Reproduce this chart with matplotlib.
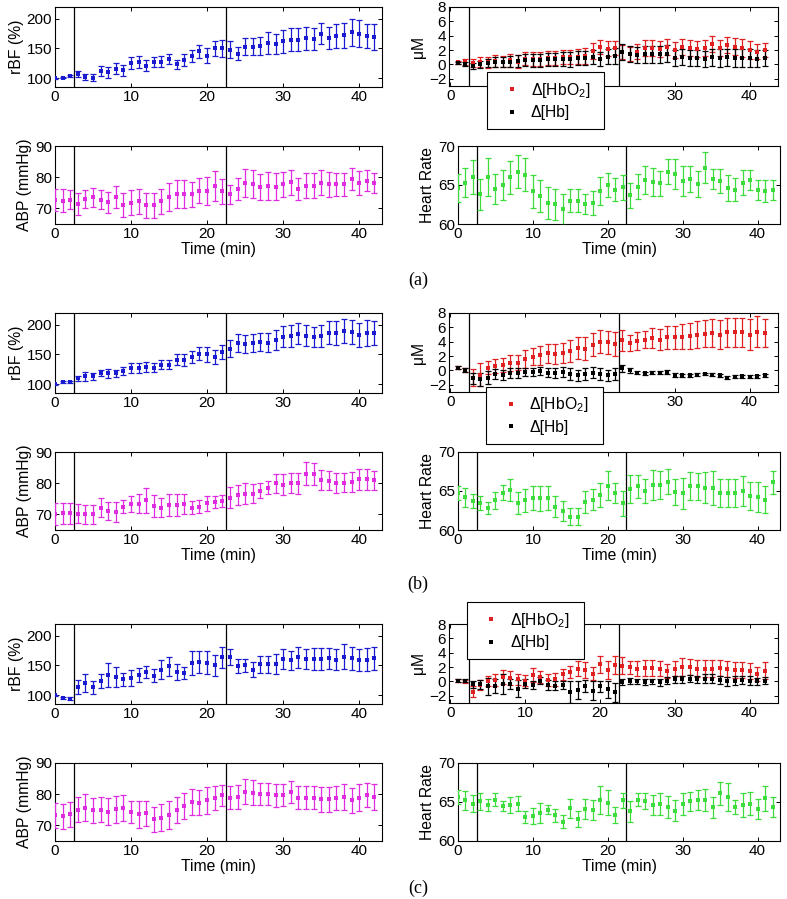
import numpy as np
import matplotlib
matplotlib.use('Agg')
import matplotlib.pyplot as plt
from matplotlib.lines import Line2D

plt.rcParams['font.family'] = ['Liberation Sans', 'DejaVu Sans']
plt.rcParams['mathtext.default'] = 'regular'

# ---------------- data ----------------
# group (a)
rbf_a = [100, 101, 104, 107, 102, 101, 112, 110, 116, 113, 125, 127, 121, 127, 128,
         132, 123, 131, 137, 145, 138, 150, 150, 148, 141, 153, 153, 154, 159, 158,
         162, 165, 165, 167, 166, 175, 168, 171, 172, 177, 175, 171, 170]
rbf_a_err = [1, 1.5, 2, 5, 5, 6, 8, 9, 9, 9, 10, 10, 9, 8, 9, 8, 8, 10, 10, 11, 12, 13,
             14, 14, 11, 14, 14, 15, 18, 17, 19, 19, 20, 20, 19, 18, 19, 21, 21, 23, 23, 20, 22]
abp_a = [72.7, 72.4, 72.8, 71.3, 73, 73.6, 72.8, 71.9, 73.6, 71, 71.8, 72.3, 71, 71, 72.3,
         73.6, 74.7, 74.7, 74.5, 75.7, 75.7, 77.3, 75.5, 74.5, 76.3, 78, 77.7, 76.8, 77.3, 77,
         77.8, 78.4, 76.3, 77.3, 77.3, 78.2, 77.7, 77.7, 77.7, 79.3, 78.2, 78.9, 78.2]
abp_a_err = [3.5, 3.7, 3, 3.5, 3, 3, 3, 3.5, 3.6, 3.8, 4, 4, 4, 4, 4, 4.5, 4.5, 4.5, 4, 4,
             4.5, 4.8, 4, 3, 3.6, 4.5, 4.5, 4.2, 4.5, 4.2, 4, 4, 3.5, 4, 4, 4, 4, 3.8, 3.8,
             3.5, 3.8, 3.3, 3.2]
hr_a = [64.6, 65.3, 66, 63.8, 66, 64.5, 65, 66, 66.7, 66.3, 64.2, 63.6, 62.7, 62.5, 61.9,
        63, 63, 62.6, 62.7, 64.2, 65, 64.4, 64.7, 63.7, 64.8, 65.6, 65.4, 65.2, 66.7, 66.4,
        65.5, 65.8, 65.1, 67.2, 65.8, 65.5, 64.6, 64.4, 65.3, 65.6, 64.4, 64.2, 64.4]
hr_a_err = [1.8, 1.9, 2.2, 2, 2.4, 1.9, 1.9, 2.1, 2.1, 2.1, 2.1, 2.1, 2, 2, 2, 1.5, 1.5,
            1.3, 1.5, 1.8, 1.6, 1.5, 1.6, 1.6, 1.6, 1.8, 1.8, 1.6, 1.6, 1.9, 1.9, 1.7, 1.7,
            2, 1.3, 1.5, 1.7, 1.5, 1.6, 1.3, 1.3, 1.4, 1.3]
hbo2_a = [0.3, 0.3, 0.2, 0.3, 0.3, 0.5, 0.4, 0.6, 0.4, 0.8, 0.8, 0.8, 0.9, 0.9, 1.0, 1.0,
          1.1, 1.2, 1.9, 2.4, 2.2, 2.3, 1.7, 1.5, 1.8, 2.3, 2.3, 2.2, 2.4, 2.0, 2.4, 2.3,
          2.2, 2.3, 2.9, 2.3, 2.7, 2.5, 2.3, 2.0, 1.8, 2.0]
hbo2_a_err = [0.2, 0.4, 0.6, 0.7, 0.8, 0.8, 0.8, 0.9, 0.9, 0.9, 1.0, 1.0, 1.0, 1.0, 1.0,
              1.0, 1.1, 1.1, 1.1, 1.0, 1.0, 1.0, 1.0, 1.0, 1.0, 1.1, 1.1, 1.1, 1.1, 1.1,
              1.1, 1.1, 1.1, 1.1, 1.1, 1.1, 1.1, 1.2, 1.2, 1.2, 1.1, 1.0]
hb_a = [0.2, 0.1, -0.2, 0.0, 0.2, 0.3, 0.3, 0.4, 0.5, 0.6, 0.6, 0.6, 0.7, 0.7, 0.8, 0.7,
        0.9, 0.9, 1.0, 0.8, 1.1, 1.2, 1.7, 1.5, 1.3, 1.4, 1.4, 1.4, 1.5, 0.9, 1.0, 0.9,
        0.9, 0.8, 1.0, 0.9, 1.0, 0.9, 0.9, 0.9, 0.8, 0.9]
hb_a_err = [0.2, 0.3, 0.4, 0.5, 0.6, 0.7, 0.7, 0.8, 0.8, 0.8, 0.9, 0.9, 0.9, 0.9, 1.0,
            1.0, 1.0, 1.0, 1.0, 1.0, 1.1, 1.1, 1.1, 1.1, 1.1, 1.2, 1.2, 1.2, 1.2, 1.1,
            1.1, 1.1, 1.1, 1.1, 1.2, 1.2, 1.2, 1.2, 1.2, 1.2, 1.2, 1.1]

# group (b)
rbf_b = [100, 104, 104, 110, 113, 113, 119, 118, 118, 122, 127, 127, 129, 128, 133,
         133, 141, 141, 146, 151, 150, 146, 154, 160, 170, 168, 169, 171, 170, 175,
         180, 181, 185, 182, 179, 181, 187, 186, 190, 188, 183, 187, 186]
rbf_b_err = [1, 2, 2, 4, 7, 6, 5, 7, 6, 7, 9, 9, 9, 7, 8, 8, 9, 10, 10, 11, 12, 12, 12,
             14, 15, 15, 15, 15, 16, 17, 18, 19, 18, 18, 17, 19, 20, 20, 20, 21, 20, 22, 20]
abp_b = [70, 70.3, 70.3, 70.2, 70, 70, 72.1, 71.1, 70.8, 72.5, 73.4, 73.4, 74.6, 72.7,
         72.2, 72.9, 72.9, 73.4, 72.2, 72.5, 73.5, 74, 74.3, 75.4, 76.2, 76.6, 76.6, 77.6,
         78.6, 80, 79.5, 80, 80, 83, 83, 81, 80.8, 80, 80.2, 80.4, 81.3, 81.3, 80.9]
abp_b_err = [3.5, 3.5, 3.5, 3, 3, 3, 3, 3, 3.3, 2, 2.5, 3, 4, 3.5, 3, 3.5, 3.5, 3.2, 2, 2,
             2.5, 2, 2, 3.5, 3.2, 3.4, 3, 2.5, 2.2, 3, 3.3, 3.3, 3.4, 3.7, 3.5, 3.2, 3,
             3.2, 3, 3.2, 3.4, 3.4, 3]
hr_b = [64.7, 64.2, 63.7, 63.4, 62.8, 63.8, 64.8, 65.1, 63.5, 63.8, 64.1, 64.1, 64.1, 63,
        62.4, 61.7, 61.7, 63.6, 63.9, 64.5, 65.7, 64.7, 63.4, 65.3, 65.6, 65, 65.8, 65.8,
        66.2, 64.9, 64.7, 65.6, 65.6, 65.4, 65.4, 64.8, 64.8, 64.8, 65, 64.4, 64.2, 63.9, 66.1]
hr_b_err = [0.9, 1.2, 0.9, 0.9, 0.8, 1.1, 1.0, 1.4, 1.4, 1.5, 1.5, 1.6, 1.5, 1.3, 1.3,
            1.1, 1.1, 1.4, 1.4, 1.5, 1.8, 1.3, 1.6, 1.8, 1.5, 1.6, 1.9, 1.8, 1.6, 1.7,
            2.0, 1.8, 1.7, 2.0, 2.2, 1.8, 1.8, 1.8, 1.9, 1.8, 1.9, 1.7, 1.5]
hbo2_b = [0.4, 0.1, -1.0, -0.6, 0.4, 0.6, 0.8, 1.0, 1.1, 1.6, 1.9, 2.1, 2.4, 2.3, 2.4,
          2.7, 3.1, 3.0, 3.6, 4.0, 3.9, 3.7, 4.2, 3.8, 4.1, 4.3, 4.5, 4.3, 4.6, 4.6,
          4.7, 4.8, 5.0, 5.1, 5.2, 5.0, 5.3, 5.3, 5.3, 5.0, 5.4, 5.2]
hbo2_b_err = [0.2, 0.3, 1.2, 1.6, 0.9, 1.0, 1.0, 1.1, 1.1, 1.2, 1.2, 1.3, 1.3, 1.4, 1.4,
              1.5, 1.5, 1.6, 1.6, 1.6, 1.6, 1.7, 1.5, 1.1, 1.2, 1.2, 1.4, 1.5, 1.6, 1.6,
              1.7, 1.8, 1.9, 1.9, 2.0, 2.0, 2.0, 2.0, 2.0, 2.1, 2.2, 1.9]
hb_b = [0.4, 0.1, -1.1, -1.2, -1.0, -0.5, -0.6, -0.4, -0.3, -0.2, -0.2, -0.1, -0.3, -0.4,
        -0.2, -0.5, -0.7, -0.5, -0.3, -0.5, -0.7, -0.5, 0.3, 0.0, -0.3, -0.4, -0.3, -0.3,
        -0.2, -0.6, -0.7, -0.7, -0.6, -0.5, -0.6, -0.7, -1.0, -0.9, -0.8, -0.9, -0.8, -0.7]
hb_b_err = [0.2, 0.3, 0.8, 0.9, 0.9, 0.7, 0.7, 0.7, 0.7, 0.6, 0.6, 0.6, 0.6, 0.7, 0.7,
            0.8, 0.8, 0.8, 0.8, 0.8, 0.8, 0.8, 0.5, 0.4, 0.2, 0.2, 0.2, 0.2, 0.3, 0.3,
            0.2, 0.2, 0.2, 0.2, 0.2, 0.2, 0.2, 0.2, 0.2, 0.2, 0.2, 0.2]

# group (c)
rbf_c = [100, 95, 94, 114, 120, 113, 124, 134, 131, 127, 129, 134, 139, 133, 143,
         149, 139, 138, 154, 156, 155, 150, 164, 164, 149, 150, 143, 152, 152, 152,
         161, 159, 164, 161, 161, 161, 162, 160, 165, 162, 159, 160, 162]
rbf_c_err = [1, 2, 3, 12, 15, 11, 12, 20, 17, 11, 14, 12, 10, 11, 16, 16, 13, 10, 20, 19,
             20, 18, 18, 14, 12, 11, 13, 14, 14, 17, 17, 16, 18, 17, 18, 19, 18, 17, 21,
             20, 19, 20, 19]
abp_c = [73.3, 73, 73.5, 75, 75.7, 74.8, 75, 74.4, 75.2, 75.5, 74.2, 73.5, 73.9, 72, 72.5,
         73.2, 75, 76.3, 77.5, 77.3, 78, 78.7, 79.6, 78.9, 79.1, 80.8, 80.5, 80, 80, 79.6,
         79.8, 80.6, 78.9, 78.9, 78.9, 78.4, 78.4, 78.7, 79.1, 78, 78.9, 79.7, 79.1]
abp_c_err = [4, 4, 4, 4, 4.3, 4, 4, 4.3, 4.3, 4.2, 3.5, 4.2, 4, 4, 4.3, 4.5, 4.2, 4.2,
             4.2, 4, 4.2, 3.8, 3.5, 3.8, 3.7, 4, 4, 3.6, 3.6, 3.8, 3.6, 3.5, 3.7, 3.8, 3.8,
             4, 4, 3.8, 4.3, 4, 4.3, 3.8, 4.2]
hr_c = [65.6, 65.2, 64.8, 65.1, 64.6, 65.3, 64.5, 64.6, 64.8, 63.1, 63.2, 63.6, 64, 63.3,
        62.5, 64.2, 62.8, 64.1, 64, 65.3, 64.9, 63.3, 65.2, 63.8, 65.3, 65.1, 64.6, 64.7,
        64.4, 63.9, 64.7, 65.1, 65.3, 65.3, 64.3, 66.1, 65.7, 64.4, 64.6, 64.8, 64.1, 65.5, 64.4]
hr_c_err = [0.9, 1.2, 1.1, 1.1, 0.8, 0.8, 0.6, 1.0, 1.0, 0.8, 1.0, 1.3, 0.6, 0.8, 0.8,
            1.2, 1.0, 1.3, 1.3, 1.8, 1.6, 1.0, 1.0, 1.3, 0.8, 1.0, 1.3, 1.4, 1.4, 1.3,
            1.4, 1.2, 1.3, 1.4, 1.4, 1.5, 1.8, 0.9, 1.5, 1.5, 1.3, 1.6, 1.3]
hbo2_c = [0.1, 0.0, -1.4, -0.5, 0.1, 0.2, 0.6, 0.5, 0.3, 0.1, 0.9, 0.6, 0.2, 0.3, 1.0,
          1.3, 1.8, 1.6, 1.1, 2.4, 1.6, 2.3, 2.2, 2.0, 1.8, 1.9, 1.9, 1.8, 1.5, 1.8,
          2.0, 2.0, 1.8, 1.8, 1.8, 1.9, 1.7, 1.6, 1.6, 1.5, 1.0, 1.5]
hbo2_c_err = [0.2, 0.2, 0.8, 0.7, 0.7, 0.8, 1.0, 1.0, 0.8, 0.8, 1.0, 0.8, 0.9, 0.9, 0.8,
              0.8, 1.1, 1.1, 0.9, 1.2, 1.2, 1.2, 1.2, 0.9, 1.0, 1.1, 1.1, 1.1, 1.0, 1.1,
              1.2, 1.1, 1.2, 1.2, 1.2, 1.1, 1.1, 1.1, 1.1, 1.1, 1.0, 1.2]
hb_c = [0.1, 0.1, -0.4, -0.4, -0.7, -0.6, -0.4, -0.3, -1.0, -0.3, -0.5, 0.1, -0.5, -0.6,
        -0.5, -1.5, -1.2, -0.6, -1.3, -0.7, -1.1, -1.5, -0.1, 0.1, 0.0, -0.1, 0.0, -0.1,
        0.1, 0.3, 0.3, 0.4, 0.3, 0.4, 0.4, 0.2, 0.0, 0.1, 0.2, 0.1, 0.0, 0.1]
hb_c_err = [0.2, 0.2, 0.5, 0.6, 1.2, 1.0, 1.4, 0.7, 1.2, 0.6, 0.6, 0.5, 0.7, 0.6, 0.5,
            1.5, 1.2, 0.8, 1.3, 0.7, 1.2, 1.3, 0.4, 0.4, 0.4, 0.4, 0.4, 0.5, 0.5, 0.5,
            0.5, 0.5, 0.5, 0.6, 0.6, 0.6, 0.6, 0.6, 0.6, 0.6, 0.5, 0.5]

group_labels = ['(a)', '(b)', '(c)']
event_times = [2.5, 22.5]
time_ticks = [0, 10, 20, 30, 40]

# ---------------- layout (pixel boxes) ----------------
W, H = 787, 899
group_offset = [0, 306, 617]
label_y = [280, 584, 888]
# legend anchor (axes coords, upper left) for each group
legend_anchor = [(0.117, 0.175), (0.113, 0.065), (0.055, 1.28)]
# the legend hides the 10 and 20 labels in (a) and (b)
hide_mid_labels = [True, True, False]

BLUE = '#1a1ad0'
MAGENTA = '#e02ce0'
GREEN = '#3ddc3d'
RED = '#e02020'
FS = 11.3


def px_axes(fig, x0, x1, ytop, ybot):
    return fig.add_axes([x0 / W, 1 - ybot / H, (x1 - x0) / W, (ybot - ytop) / H])


def style_axes(ax, xlim, ylim, yticks, ylabel, xlabel=None):
    for t in event_times:
        ax.axvline(t, color='k', lw=0.9, zorder=1)
    ax.set_xlim(*xlim)
    ax.set_ylim(*ylim)
    ax.set_xticks(time_ticks)
    ax.set_yticks(yticks)
    ax.tick_params(direction='in', top=True, right=True, length=3, width=0.7,
                   labelsize=11, pad=2)
    for sp in ax.spines.values():
        sp.set_linewidth(0.8)
    ax.set_ylabel(ylabel, fontsize=FS, labelpad=2)
    if xlabel:
        ax.set_xlabel(xlabel, fontsize=FS, labelpad=1)


def errbars(ax, x, y, err, color):
    cont = ax.errorbar(x, y, yerr=err, fmt='s', ms=2.4, color=color, ecolor=color,
                       elinewidth=0.9, capsize=2.5, capthick=0.9, zorder=3)
    # small filled dots without an outline, caps keep their thickness
    cont[0].set_markeredgewidth(0)


fig = plt.figure(figsize=(W / 100, H / 100), dpi=100)

groups = [
    (rbf_a, rbf_a_err, abp_a, abp_a_err, hr_a, hr_a_err, hbo2_a, hbo2_a_err, hb_a, hb_a_err),
    (rbf_b, rbf_b_err, abp_b, abp_b_err, hr_b, hr_b_err, hbo2_b, hbo2_b_err, hb_b, hb_b_err),
    (rbf_c, rbf_c_err, abp_c, abp_c_err, hr_c, hr_c_err, hbo2_c, hbo2_c_err, hb_c, hb_c_err),
]

for g, (rbf, rbf_e, abp, abp_e, hr, hr_e, hbo2, hbo2_e, hb, hb_e) in enumerate(groups):
    off = group_offset[g]
    t = np.arange(len(rbf))
    th = np.arange(1, len(hbo2) + 1)

    # relative blood flow
    ax = px_axes(fig, 55, 382, 7 + off, 87 + off)
    errbars(ax, t, rbf, rbf_e, BLUE)
    style_axes(ax, (0, 43), (85, 220), [100, 150, 200], 'rBF (%)')

    # oxy / deoxy haemoglobin
    ax = px_axes(fig, 449, 778, 7 + off, 86 + off)
    errbars(ax, th, hbo2, hbo2_e, RED)
    errbars(ax, th, hb, hb_e, 'k')
    style_axes(ax, (-0.2, 43.8), (-3, 8), [-2, 0, 2, 4, 6, 8], '\u03bcM')
    if hide_mid_labels[g]:
        ax.set_xticklabels(['0', '', '', '30', '40'])
    handles = [Line2D([], [], ls='none', marker='s', ms=2.4, mew=0, color=RED),
               Line2D([], [], ls='none', marker='s', ms=2.4, mew=0, color='k')]
    leg = ax.legend(handles, ['\u0394[HbO$_2$]  ', '\u0394[Hb]'], loc='upper left',
                    bbox_to_anchor=legend_anchor[g], fontsize=FS, frameon=True,
                    fancybox=False, edgecolor='k', framealpha=1, borderpad=0.55,
                    handlelength=2.0, handletextpad=0.2, labelspacing=0.35,
                    borderaxespad=0)
    leg.get_frame().set_linewidth(0.8)

    # arterial blood pressure
    ax = px_axes(fig, 55, 382, 146 + off, 224 + off)
    errbars(ax, t, abp, abp_e, MAGENTA)
    style_axes(ax, (0, 43), (65, 90), [70, 80, 90], 'ABP (mmHg)', 'Time (min)')

    # heart rate
    ax = px_axes(fig, 458, 780, 146 + off, 224 + off)
    errbars(ax, np.arange(len(hr)), hr, hr_e, GREEN)
    style_axes(ax, (0, 43), (60, 70), [60, 65, 70], 'Heart Rate', 'Time (min)')

    fig.text(418 / W, 1 - label_y[g] / H, group_labels[g], ha='center', va='center',
             fontsize=13, family='Liberation Serif')

fig.savefig('out.png', dpi=100)
